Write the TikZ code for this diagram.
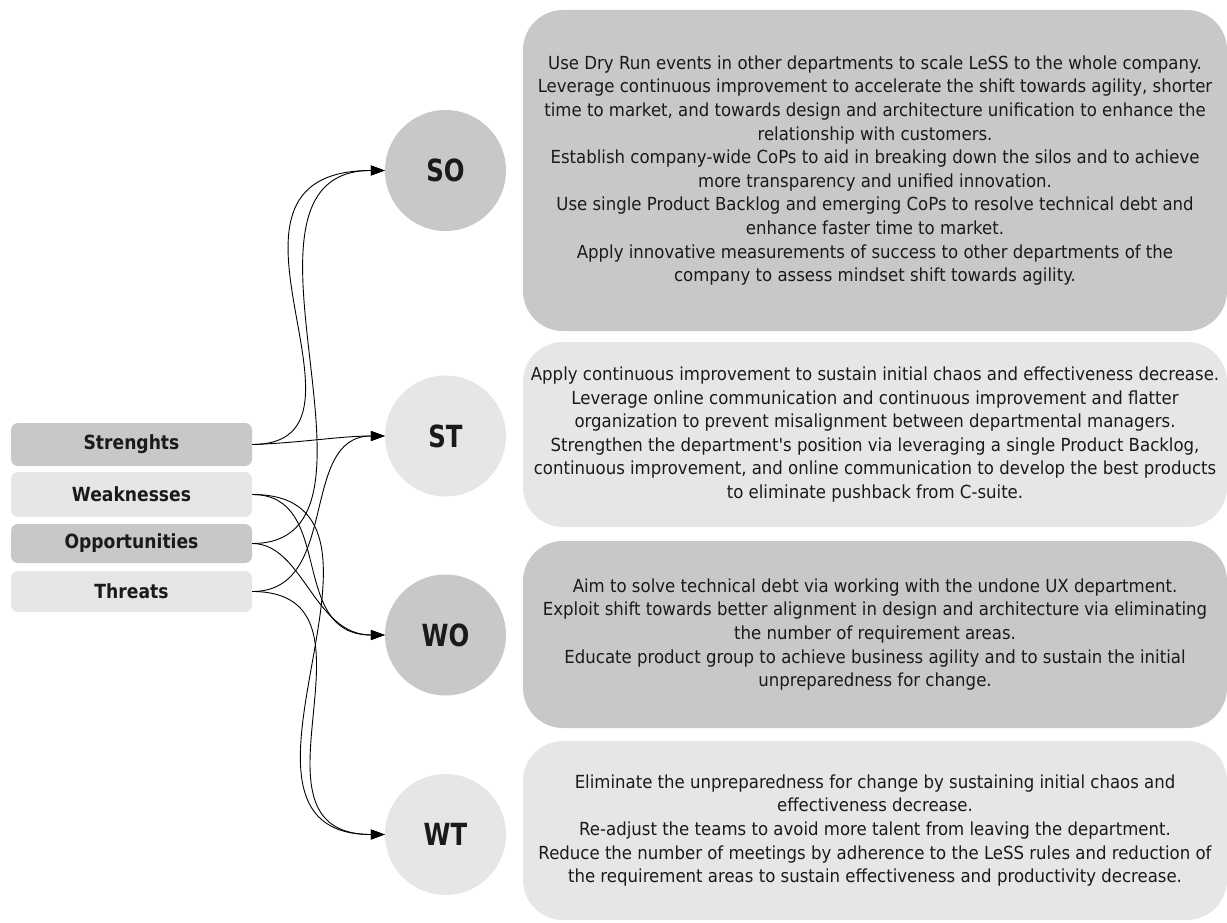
\documentclass[tikz,border=0pt]{standalone}
\usepackage{fontspec}
\usetikzlibrary{arrows.meta}
\newfontfamily\bodyfont[FakeStretch=0.92]{DejaVu Sans}
\newfontfamily\lblfont[FakeStretch=0.88]{DejaVu Sans}
\newfontfamily\circfont[FakeStretch=0.8]{DejaVu Sans}
\definecolor{darkg}{RGB}{200,200,200}
\definecolor{lightg}{RGB}{230,230,230}
\definecolor{inkc}{RGB}{26,26,26}
\begin{document}
\begin{tikzpicture}[x=1pt,y=-1pt,
  bigbox/.style={draw=none, rounded corners=40pt, minimum width=704pt, align=center,
    text=inkc, font={\bodyfont\fontsize{18}{23.6}\selectfont}},
  swot/.style={circle, draw=none, minimum size=121pt, inner sep=0pt, text=inkc,
    font={\circfont\bfseries\fontsize{30.5}{32}\selectfont}},
  lbl/.style={draw=none, rounded corners=7pt, minimum width=241pt, inner sep=0pt, text=inkc,
    font={\lblfont\bfseries\fontsize{19.5}{22}\selectfont}},
  conn/.style={draw=black, line width=0.9pt, -{Triangle[length=14pt,width=10pt]}}
  ]
\path[use as bounding box] (0,0) rectangle (1227,923);

% text boxes
\node[bigbox, fill=darkg, minimum height=321pt] (soBox) at (875,170.5) {Use Dry Run events in other departments to scale LeSS to the whole company.\\
Leverage continuous improvement to accelerate the shift towards agility, shorter\\
time to market, and towards design and architecture unification to enhance the\\
relationship with customers.\\
Establish company-wide CoPs to aid in breaking down the silos and to achieve\\
more transparency and unified innovation.\\
Use single Product Backlog and emerging CoPs to resolve technical debt and\\
enhance faster time to market.\\
Apply innovative measurements of success to other departments of the\\
company to assess mindset shift towards agility.};

\node[bigbox, fill=lightg, minimum height=185pt] (stBox) at (875,434.5) {Apply continuous improvement to sustain initial chaos and effectiveness decrease.\\
Leverage online communication and continuous improvement and flatter\\
organization to prevent misalignment between departmental managers.\\
Strengthen the department's position via leveraging a single Product Backlog,\\
continuous improvement, and online communication to develop the best products\\
to eliminate pushback from C-suite.};

\node[bigbox, fill=darkg, minimum height=187pt] (woBox) at (875,634.5) {Aim to solve technical debt via working with the undone UX department.\\
Exploit shift towards better alignment in design and architecture via eliminating\\
the number of requirement areas.\\
Educate product group to achieve business agility and to sustain the initial\\
unpreparedness for change.};

\node[bigbox, fill=lightg, minimum height=179pt] (wtBox) at (875,830.5) {Eliminate the unpreparedness for change by sustaining initial chaos and\\
effectiveness decrease.\\
Re-adjust the teams to avoid more talent from leaving the department.\\
Reduce the number of meetings by adherence to the LeSS rules and reduction of\\
the requirement areas to sustain effectiveness and productivity decrease.};

% circles
\node[swot, fill=darkg] (so) at (445.5,170.5) {SO};
\node[swot, fill=lightg] (st) at (445.5,436) {ST};
\node[swot, fill=darkg] (wo) at (445.5,635) {WO};
\node[swot, fill=lightg] (wt) at (445.5,834.5) {WT};

% left labels
\node[lbl, fill=darkg, minimum height=43pt] (str) at (131.5,444.5) {Strenghts};
\node[lbl, fill=lightg, minimum height=45pt] (wea) at (131.5,494.5) {Weaknesses};
\node[lbl, fill=darkg, minimum height=39pt] (opp) at (131.5,543.5) {Opportunities};
\node[lbl, fill=lightg, minimum height=41pt] (thr) at (131.5,591.5) {Threats};

% connectors
\draw[conn] (str.east) .. controls (396,444) and (182,170.5) .. (so.west);
\draw[conn] (opp.east) .. controls (411,543.5) and (207,170.5) .. (so.west);
\draw[conn] (str.east) .. controls (300,443) and (340,436) .. (st.west);
\draw[conn] (thr.east) .. controls (341,591.5) and (298,436) .. (st.west);
\draw[conn] (wea.east) .. controls (336,494.5) and (287,635) .. (wo.west);
\draw[conn] (opp.east) .. controls (303,543.5) and (314,635) .. (wo.west);
\draw[conn] (wea.east) .. controls (432,494.5) and (192,834.5) .. (wt.west);
\draw[conn] (thr.east) .. controls (397,591.5) and (231,834.5) .. (wt.west);
\end{tikzpicture}
\end{document}
